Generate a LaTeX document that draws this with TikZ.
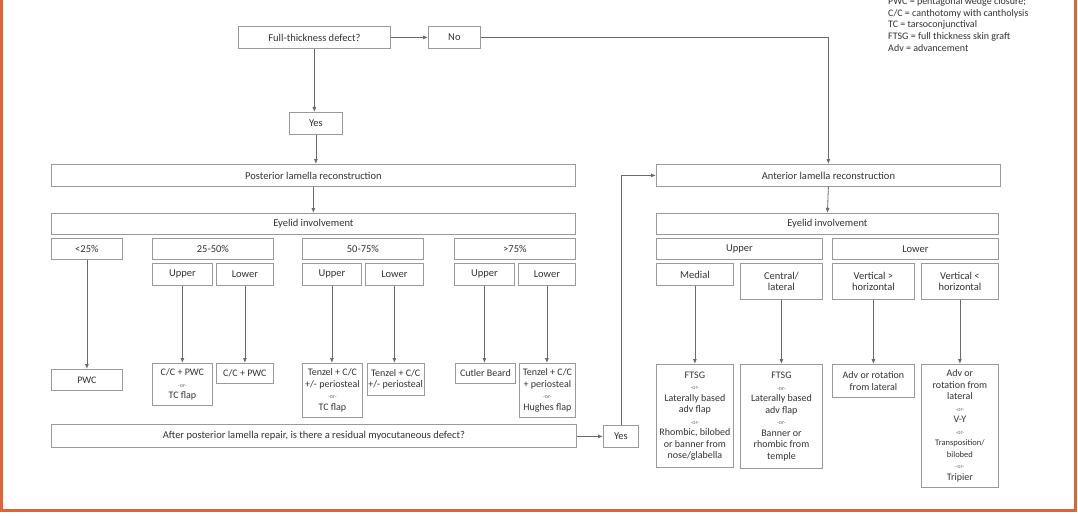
\documentclass[tikz,border=0pt]{standalone}
\usepackage{fontspec}
\setmainfont{Carlito}
\usetikzlibrary{arrows.meta,shadows}
\definecolor{boxline}{HTML}{9A9A9A}
\definecolor{conline}{HTML}{6A6A6A}
\definecolor{txt}{HTML}{333333}
\definecolor{frameor}{HTML}{E06536}
\newcommand{\orr}{{\fontsize{6}{6}\selectfont\color{txt!70} -or-}}
\tikzset{
  bx/.style={draw=boxline, line width=0.8pt, fill=white, text=txt, inner sep=1pt,
    align=center, anchor=north west,
    font=\fontsize{10.5}{11.5}\selectfont,
    drop shadow={shadow xshift=0.8pt, shadow yshift=-0.8pt, opacity=0.25}},
  cbx/.style={bx, font=\fontsize{10}{11.5}\selectfont},
  arr/.style={draw=conline, line width=0.8pt, -{Latex[length=5pt,width=4pt]}},
  ln/.style={draw=conline, line width=0.8pt},
  leg/.style={anchor=base west, inner sep=0pt, text=txt, font=\fontsize{10}{11.7}\selectfont}
}
\begin{document}
\begin{tikzpicture}[x=1pt,y=-1pt]
\useasboundingbox (0,0) rectangle (1078,516);
\fill[white] (0,0) rectangle (1078,516);

% legend
\node[leg] (lg1) at (888,4.5) {PWC = pentagonal wedge closure;};
\node[leg] (lg2) at (888,16.3) {C/C = canthotomy with cantholysis};
\node[leg] (lg3) at (888,28) {TC = tarsoconjunctival};
\node[leg] (lg4) at (888,39.7) {FTSG = full thickness skin graft};
\node[leg] (lg5) at (888,51.4) {Adv = advancement};

% top
\node[bx, minimum width=152pt, minimum height=22pt] (ft) at (238,26) {Full-thickness defect?};
\node[bx, minimum width=52pt, minimum height=22pt] (no) at (428,26) {No};
\node[bx, minimum width=53pt, minimum height=22pt] (yes1) at (289,112) {Yes};
\node[bx, minimum width=524pt, minimum height=22pt] (post) at (51,164) {Posterior lamella reconstruction};
\node[bx, minimum width=344pt, minimum height=22pt] (ant) at (656,164) {Anterior lamella reconstruction};

% left eyelid involvement
\node[bx, minimum width=524pt, minimum height=21pt] (eyel) at (51,213) {Eyelid involvement};
\node[bx, minimum width=71pt, minimum height=21pt] (p25) at (51,238) {<25\%};
\node[bx, minimum width=121pt, minimum height=21pt] (p2550) at (152,238) {25-50\%};
\node[bx, minimum width=121pt, minimum height=21pt] (p5075) at (302,238) {50-75\%};
\node[bx, minimum width=121pt, minimum height=21pt] (p75) at (454,238) {>75\%};
\node[bx, minimum width=60pt, minimum height=22pt] (u1) at (152,263) {Upper};
\node[bx, minimum width=57pt, minimum height=22pt] (l1) at (216,263) {Lower};
\node[bx, minimum width=59pt, minimum height=22pt] (u2) at (302,263) {Upper};
\node[bx, minimum width=58pt, minimum height=22pt] (l2) at (365,263) {Lower};
\node[bx, minimum width=60pt, minimum height=22pt] (u3) at (454,263) {Upper};
\node[bx, minimum width=57pt, minimum height=22pt] (l3) at (518,263) {Lower};

% right eyelid involvement
\node[bx, minimum width=342pt, minimum height=21pt] (eyer) at (656,213) {Eyelid involvement};
\node[bx, minimum width=166pt, minimum height=21pt] (rup) at (656,238) {Upper};
\node[bx, minimum width=166pt, minimum height=21pt] (rlow) at (832,238) {Lower};
\node[bx, minimum width=77pt, minimum height=22pt] (med) at (656,263) {Medial};
\node[bx, minimum width=82pt, minimum height=36pt] (cen) at (740,263) {Central/\\lateral};
\node[bx, minimum width=82pt, minimum height=36pt] (vg) at (832,263) {Vertical >\\horizontal};
\node[bx, minimum width=77pt, minimum height=36pt] (vl) at (921,263) {Vertical <\\horizontal};

% left results
\node[cbx, minimum width=71pt, minimum height=21pt] (pwc) at (51,369) {PWC};
\node[cbx, minimum width=60pt, minimum height=42pt] (r1) at (152,363) {C/C + PWC\\\orr\\TC flap};
\node[cbx, minimum width=57pt, minimum height=20pt] (r2) at (216,363) {C/C + PWC};
\node[cbx, minimum width=60pt, minimum height=54pt] (r3) at (302,363) {Tenzel + C/C\\+/- periosteal\\\orr\\TC flap};
\node[cbx, minimum width=56pt, minimum height=32pt] (r4) at (367,363) {Tenzel + C/C\\+/- periosteal};
\node[cbx, minimum width=60pt, minimum height=20pt] (r5) at (455,363) {Cutler Beard};
\node[cbx, minimum width=56pt, minimum height=54pt] (r6) at (519,363) {Tenzel + C/C\\+ periosteal\\\orr\\Hughes flap};

% right results
\node[cbx, minimum width=77pt, minimum height=103pt] (f1) at (656,364) {FTSG\\\orr\\Laterally based\\adv flap\\\orr\\Rhombic, bilobed\\or banner from\\nose/glabella};
\node[cbx, minimum width=82pt, minimum height=104pt] (f2) at (740,364) {FTSG\\\orr\\Laterally based\\adv flap\\\orr\\Banner or\\rhombic from\\temple};
\node[cbx, minimum width=82pt, minimum height=33pt] (a1) at (832,364) {Adv or rotation\\from lateral};
\node[cbx, minimum width=77pt, minimum height=123pt] (a2) at (921,364) {Adv or\\rotation from\\lateral\\\orr\\V-Y\\\orr\\{\fontsize{8.5}{11.5}\selectfont Transposition/}\\{\fontsize{8.5}{11.5}\selectfont bilobed}\\\orr\\Tripier};

% bottom question
\node[bx, minimum width=525pt, minimum height=23pt] (after) at (51,424) {After posterior lamella repair, is there a residual myocutaneous defect?};
\node[bx, minimum width=35pt, minimum height=22pt] (yes2) at (603,425) {Yes};

% connectors
\draw[arr] (ft.east) -- (no.west);
\draw[arr] (ft.south) -- (ft.south |- yes1.north);
\draw[arr] (yes1.south) -- (yes1.south |- post.north);
\draw[arr] (no.east) -| (ant.north);
\draw[arr] (post.south) -- (eyel.north);
\draw[arr] (ant.south) -- (eyer.north);
\draw[arr] (p25.south) -- (pwc.north);
\draw[arr] (u1.south) -- (u1.south |- r1.north);
\draw[arr] (l1.south) -- (l1.south |- r2.north);
\draw[arr] (u2.south) -- (u2.south |- r3.north);
\draw[arr] (l2.south) -- (l2.south |- r4.north);
\draw[arr] (u3.south) -- (u3.south |- r5.north);
\draw[arr] (l3.south) -- (l3.south |- r6.north);
\draw[arr] (med.south) -- (med.south |- f1.north);
\draw[arr] (cen.south) -- (cen.south |- f2.north);
\draw[arr] (vg.south) -- (vg.south |- a1.north);
\draw[arr] (vl.south) -- (vl.south |- a2.north);
\draw[arr] (after.east |- yes2.west) -- (yes2.west);
\draw[arr] (yes2.north) |- (ant.west);

% orange frame
\draw[frameor, line width=3.5pt] (1.7,-20) -- (1.7,510.5) -- (1075.3,510.5) -- (1075.3,-20);
\end{tikzpicture}
\end{document}
